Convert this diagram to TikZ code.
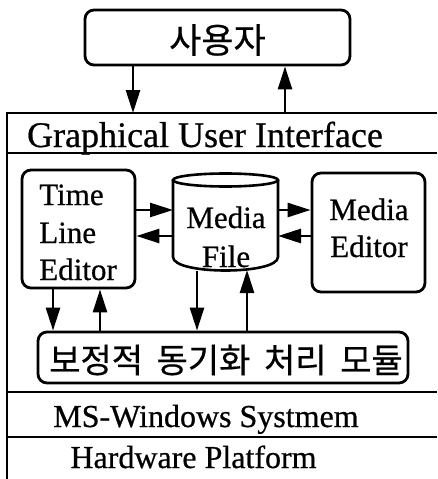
\documentclass[tikz,border=0pt]{standalone}
\usepackage{fontspec}
\setmainfont{Liberation Serif}
\newfontfamily\lsr[FakeBold=0.6]{Liberation Serif}
\newfontfamily\kr[FakeBold=0.5]{Noto Sans CJK KR}
\usetikzlibrary{arrows.meta}
\begin{document}
\begin{tikzpicture}[x=1pt,y=-1pt,line width=2.6pt,
  box/.style={draw,rounded corners=9pt,line width=2.8pt,inner sep=0pt},
  arr/.style={-{Triangle[length=23pt,width=14pt]},line width=2.6pt},
  lbl/.style={font=\lsr\fontsize{31}{37}\selectfont,inner sep=0pt},
  band/.style={font=\lsr\fontsize{32}{38}\selectfont,inner sep=0pt,anchor=base},
  krt/.style={font=\kr\fontsize{34}{38}\selectfont,inner sep=0pt}]
\useasboundingbox (0,0) rectangle (437,479);
% user box
\node[box,minimum width=265pt,minimum height=55pt] (user) at (217.5,37.5) {};
\node[krt,font=\kr\fontsize{35}{38}\selectfont] (usertxt) at (217.5,40) {사용자};
% frame lines
\coordinate (f1) at (7,113);  \coordinate (f1r) at (437,113);
\coordinate (f2) at (7,153);  \coordinate (f2r) at (437,153);
\coordinate (f3) at (7,392);  \coordinate (f3r) at (437,392);
\coordinate (f4) at (7,437);  \coordinate (f4r) at (437,437);
\coordinate (fb) at (7,479);
\draw (fb) -- (f1) -- (f1r);
\draw (f2) -- (f2r);
\draw (f3) -- (f3r);
\draw (f4) -- (f4r);
\node[band,font=\lsr\fontsize{36}{40}\selectfont] (gui) at (205,147) {Graphical User Interface};
\node[band] (ms) at (206,427) {MS-Windows Systmem};
\node[band] (hw) at (193.5,468) {Hardware Platform};
% user arrows
\coordinate (u1) at (133,113);
\coordinate (u2) at (285,113);
\draw[arr] (user.south -| u1) -- (u1);
\draw[arr] (u2) -- (user.south -| u2);
% time line editor
\node[box,minimum width=113pt,minimum height=118pt] (tle) at (78.5,229) {};
\node[lbl,anchor=base west] (tle1) at (38,205) {Time};
\node[lbl,anchor=base west] (tle2) at (38,243) {Line};
\node[lbl,anchor=base west] (tle3) at (38,280) {Editor};
% media editor
\node[box,minimum width=113pt,minimum height=119pt] (me) at (368.5,232.5) {};
\node[lbl,anchor=base] (me1) at (369,220) {Media};
\node[lbl,anchor=base] (me2) at (369,257) {Editor};
% media file cylinder
\node[minimum width=105pt,minimum height=97pt,inner sep=0pt,outer sep=0pt] (mf) at (225.5,221.5) {};
\draw (225.5,180) ellipse [x radius=52.5pt,y radius=6.5pt];
\draw (173,180) -- (173,257) .. controls (173,275) and (278,275) .. (278,257) -- (278,180);
\node[lbl,anchor=base] (mf1) at (226,228) {Media};
\node[lbl,anchor=base] (mf2) at (226,267) {File};
% horizontal arrows
\coordinate (h1) at (0,210);
\coordinate (h2) at (0,236);
\draw[arr] (tle.east |- h1) -- (mf.west |- h1);
\draw[arr] (mf.west |- h2) -- (tle.east |- h2);
\draw[arr] (mf.east |- h1) -- (me.west |- h1);
\draw[arr] (me.west |- h2) -- (mf.east |- h2);
% module
\node[box,minimum width=370pt,minimum height=51pt] (mod) at (223,357.5) {};
\node[krt] (modtxt) at (226,360) {보정적\hspace{0.4em}동기화\hspace{0.4em}처리\hspace{0.4em}모듈};
% vertical arrows
\coordinate (v1) at (53,0);
\coordinate (v2) at (100,0);
\coordinate (v3) at (197,271);
\coordinate (v4) at (247,0);
\draw[arr] (tle.south -| v1) -- (mod.north -| v1);
\draw[arr] (mod.north -| v2) -- (tle.south -| v2);
\draw[arr] (v3) -- (mod.north -| v3);
\draw[arr] (mod.north -| v4) -- (mf.south -| v4);
\end{tikzpicture}
\end{document}
